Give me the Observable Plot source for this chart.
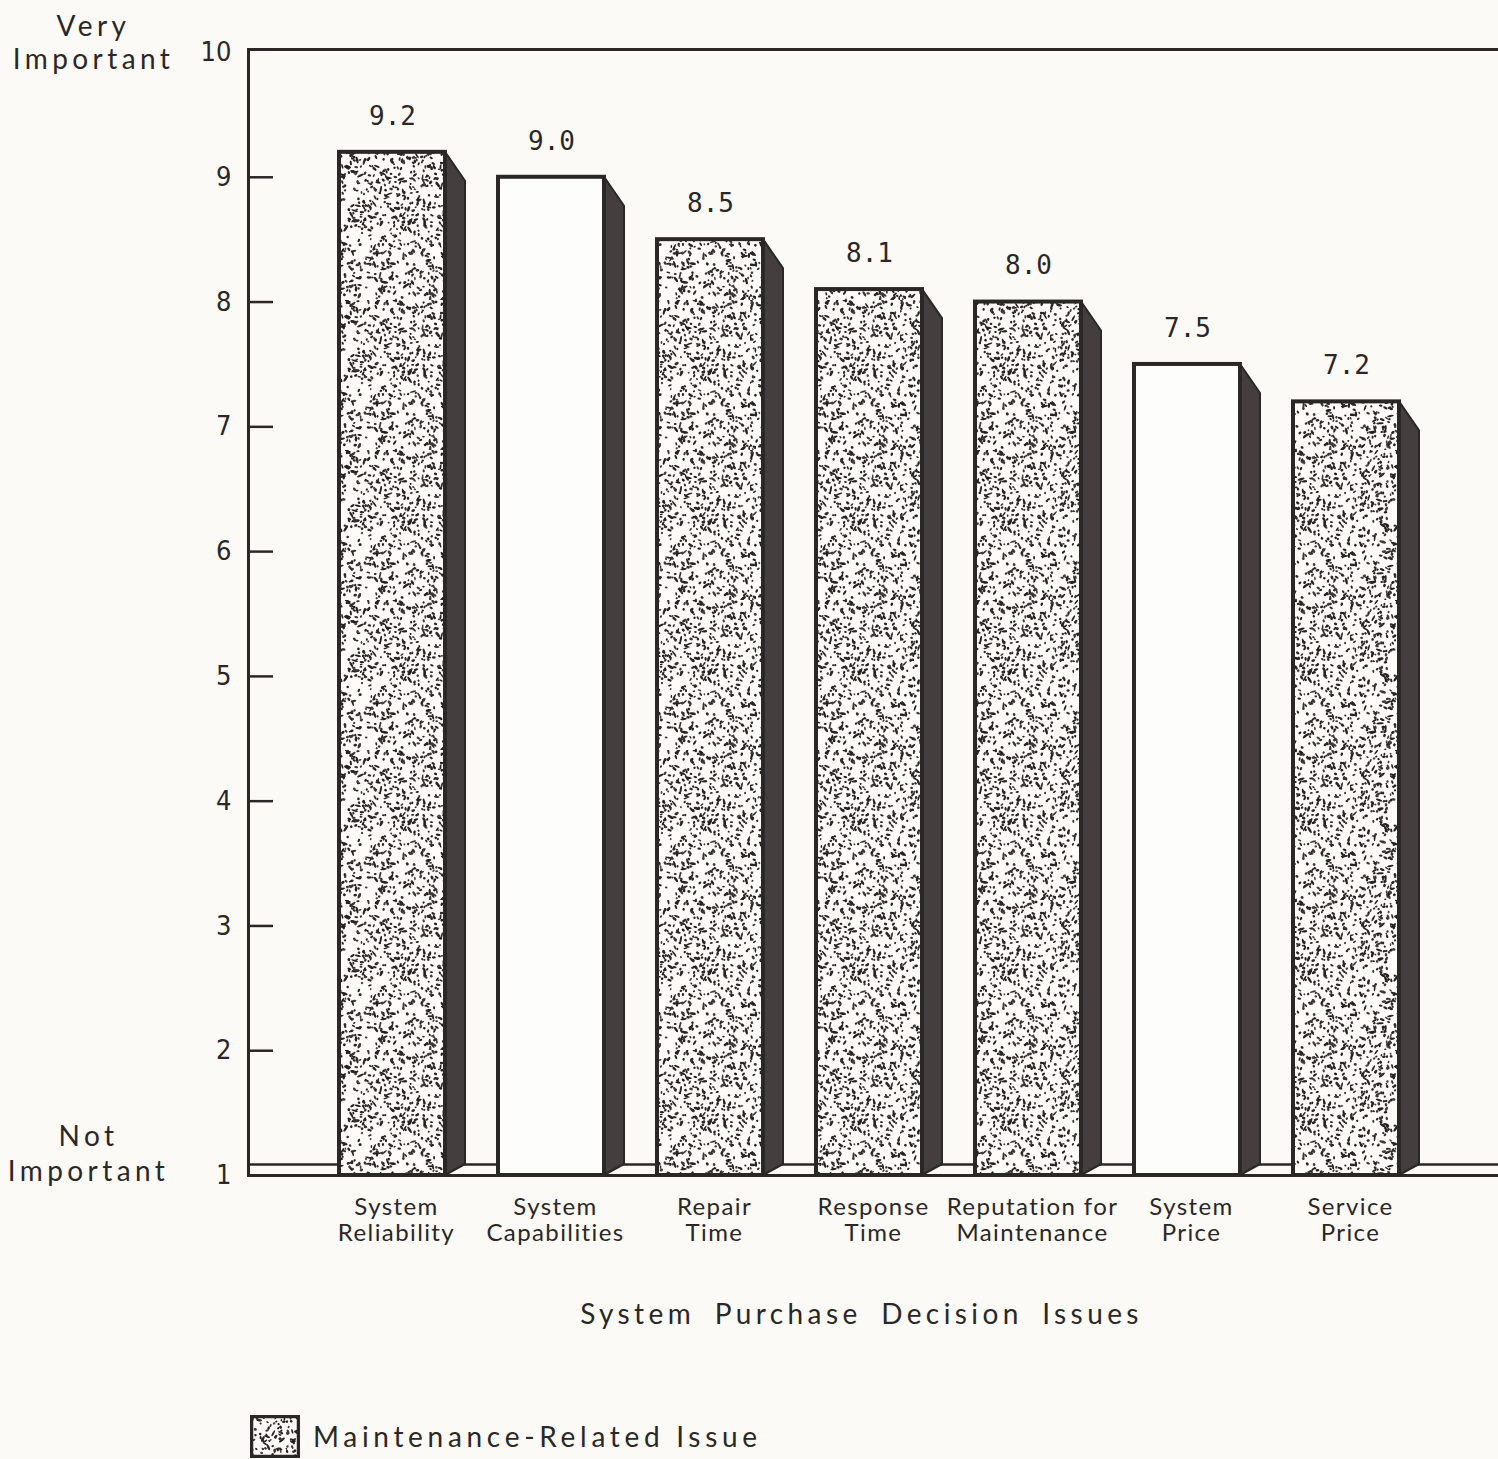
<!DOCTYPE html>
<html>
<head>
<meta charset="utf-8">
<script src="https://cdn.jsdelivr.net/npm/d3@7"></script>
<script src="https://cdn.jsdelivr.net/npm/@observablehq/plot@0.6"></script>
<style>
  html, body { margin: 0; padding: 0; background: #fbfaf6; }
  #chart svg { display: block; background: #fbfaf6; }
  .legend { position: relative; height: 54px; font-family: Lato, "Open Sans", sans-serif; font-size: 28px; letter-spacing: 4.7px; color: #2b2727; }
  .legend svg { position: absolute; left: 250px; top: 10px; }
  .legend span { position: absolute; left: 313px; top: 33px; transform: translateY(-55%); white-space: nowrap; }
</style>
</head>
<body>
<div id="chart"></div>
<div class="legend" id="legend"></div>
<script>
// Importance ratings of system purchase decision issues (1 = not important, 10 = very important)
const issues = [
  "System Reliability",
  "System Capabilities",
  "Repair Time",
  "Response Time",
  "Reputation for Maintenance",
  "System Price",
  "Service Price"
];
const issueLabels = [
  "System\nReliability",
  "System\nCapabilities",
  "Repair\nTime",
  "Response\nTime",
  "Reputation for\nMaintenance",
  "System\nPrice",
  "Service\nPrice"
];
const ratings = [9.2, 9.0, 8.5, 8.1, 8.0, 7.5, 7.2];
const maintenanceRelated = [true, false, true, true, true, false, true];
const yTickLabels = [1, 2, 3, 4, 5, 6, 7, 8, 9, 10];
const yTickMarks = [2, 3, 4, 5, 6, 7, 8, 9];

const rows = issues.map((issue, i) => ({
  issue,
  label: issueLabels[i],
  rating: ratings[i],
  maintenance: maintenanceRelated[i]
}));

const ink = "#2b2727";
const sideFill = "#443e3e";
const humanist = "Lato, 'Open Sans', sans-serif";
const narrow = "'Liberation Sans Narrow', 'DejaVu Sans Condensed', Roboto, sans-serif";
const mono = "'DejaVu Sans Mono', 'Liberation Mono', monospace";
const SVGNS = "http://www.w3.org/2000/svg";

// Speckled fill used for maintenance-related issues (a fixed, seeded texture tile)
function stippleDefs(doc, id) {
  const defs = doc.createElementNS(SVGNS, "defs");
  const pat = doc.createElementNS(SVGNS, "pattern");
  const size = 150;
  pat.setAttribute("id", id);
  pat.setAttribute("patternUnits", "userSpaceOnUse");
  pat.setAttribute("width", size);
  pat.setAttribute("height", size);
  const bg = doc.createElementNS(SVGNS, "rect");
  bg.setAttribute("width", size);
  bg.setAttribute("height", size);
  bg.setAttribute("fill", "#fdfcf8");
  pat.appendChild(bg);
  let seed = 20240611;
  const next = () => {
    seed |= 0; seed = (seed + 0x6D2B79F5) | 0;
    let t = Math.imul(seed ^ (seed >>> 15), 1 | seed);
    t = (t + Math.imul(t ^ (t >>> 7), 61 | t)) ^ t;
    return ((t ^ (t >>> 14)) >>> 0) / 4294967296;
  };
  for (let k = 0; k < 960; ++k) {
    const e = doc.createElementNS(SVGNS, "ellipse");
    const cx = next() * size, cy = next() * size;
    const long = next() < 0.22;
    const rx = long ? 2.2 + next() * 1.6 : 1.0 + next() * 1.0;
    const ry = 0.8 + next() * 0.6;
    e.setAttribute("cx", cx.toFixed(1));
    e.setAttribute("cy", cy.toFixed(1));
    e.setAttribute("rx", rx.toFixed(2));
    e.setAttribute("ry", ry.toFixed(2));
    e.setAttribute("transform", `rotate(${(next() * 180).toFixed(0)} ${cx.toFixed(1)} ${cy.toFixed(1)})`);
    e.setAttribute("fill", next() < 0.75 ? "#272323" : "#3e3939");
    pat.appendChild(e);
  }
  defs.appendChild(pat);
  return defs;
}

// Shaded right-hand side of each bar, giving the bars their depth
const depthX = 20, depthY = 29, floorDepth = 11;
function barSides(index, scales, values, dimensions, context) {
  const doc = (context && context.document) || document;
  const {x, y} = scales;
  const bw = typeof x.bandwidth === "function" ? x.bandwidth() : scales.scales.x.bandwidth;
  const g = doc.createElementNS(SVGNS, "g");
  g.appendChild(stippleDefs(doc, "stipple"));
  for (const d of rows) {
    const x1 = x(d.issue) + bw;
    const top = y(d.rating);
    const front = y(1);
    const back = front - floorDepth;
    const p = doc.createElementNS(SVGNS, "path");
    p.setAttribute("d", `M${x1},${top}L${x1 + depthX},${top + depthY}L${x1 + depthX},${back}L${x1},${front}Z`);
    p.setAttribute("fill", sideFill);
    p.setAttribute("stroke", ink);
    p.setAttribute("stroke-width", 2);
    p.setAttribute("stroke-linejoin", "round");
    g.appendChild(p);
  }
  return g;
}

const chart = Plot.plot({
  width: 1498,
  height: 1405,
  marginLeft: 248,
  marginRight: 0,
  marginTop: 52,
  marginBottom: 230,
  style: {background: "#fbfaf6", color: ink},
  x: {domain: issues, padding: 0.335, paddingOuter: 0.591, align: 0.478, axis: null},
  y: {domain: [1, 10], axis: null},
  marks: [
    // back edge of the floor
    Plot.ruleY([1], {dy: -floorDepth, stroke: ink, strokeWidth: 2.5}),
    barSides,
    Plot.barY(rows.filter(d => d.maintenance), {x: "issue", y1: 1, y2: "rating", fill: "url(#stipple)", stroke: ink, strokeWidth: 4}),
    Plot.barY(rows.filter(d => !d.maintenance), {x: "issue", y1: 1, y2: "rating", fill: "#fdfdfb", stroke: ink, strokeWidth: 4}),
    // top, left and front floor edges
    Plot.frame({stroke: ink, strokeWidth: 3, insetRight: -10, insetTop: -3}),
    // inward tick marks
    Plot.ruleY(yTickMarks, {stroke: ink, strokeWidth: 2.5, insetRight: 1250 - 25}),
    Plot.text(yTickLabels, {y: d => d, text: d => String(d), frameAnchor: "left", dx: -17, textAnchor: "end", fontFamily: narrow, fontSize: 27, fill: ink}),
    Plot.text(rows, {x: "issue", y: "rating", text: d => d3.format(".1f")(d.rating), dy: -36, fontFamily: mono, fontSize: 26, fill: ink}),
    Plot.text(rows, {x: "issue", text: "label", frameAnchor: "bottom", lineAnchor: "middle", dy: 44, dx: 4, lineHeight: 1.1, fontFamily: humanist, fontSize: 24, fill: ink}),
    Plot.text(["Very\nImportant"], {frameAnchor: "top-left", lineAnchor: "middle", textAnchor: "middle", dx: -155, dy: -11, lineHeight: 1.18, fontFamily: humanist, fontSize: 28, fill: ink}),
    Plot.text(["Not\nImportant"], {frameAnchor: "bottom-left", lineAnchor: "middle", textAnchor: "middle", dx: -160, dy: -23, lineHeight: 1.25, fontFamily: humanist, fontSize: 28, fill: ink}),
    Plot.text(["System Purchase Decision Issues"], {frameAnchor: "bottom", lineAnchor: "middle", dx: -12, dy: 140, fontFamily: humanist, fontSize: 28, fill: ink})
  ]
});

// Letter-spaced lettering for the category and axis texts
chart.querySelectorAll("g[font-size='24'] text").forEach(t => t.style.letterSpacing = "1.4px");
chart.querySelectorAll("g[font-size='28'] text").forEach(t => {
  t.style.letterSpacing = "4.4px";
  if (t.textContent.startsWith("System Purchase")) t.style.wordSpacing = "8px";
});
document.getElementById("chart").appendChild(chart);

// Legend: speckled swatch for maintenance-related issues
const legend = document.getElementById("legend");
const sw = document.createElementNS(SVGNS, "svg");
sw.setAttribute("width", 50);
sw.setAttribute("height", 43);
const swRect = document.createElementNS(SVGNS, "rect");
swRect.setAttribute("x", 1.5);
swRect.setAttribute("y", 1.5);
swRect.setAttribute("width", 47);
swRect.setAttribute("height", 40);
swRect.setAttribute("fill", "url(#stipple)");
swRect.setAttribute("stroke", ink);
swRect.setAttribute("stroke-width", 3.5);
sw.appendChild(swRect);
legend.appendChild(sw);
const lt = document.createElement("span");
lt.textContent = "Maintenance-Related Issue";
legend.appendChild(lt);
</script>
</body>
</html>
